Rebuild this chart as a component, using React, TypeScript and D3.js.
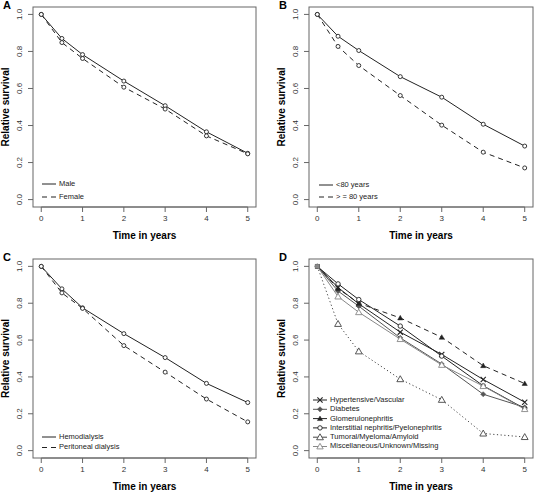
import React from "react";
import * as d3 from "d3";

const years = [0, 0.5, 1, 2, 3, 4, 5];
const xTicks = [0, 1, 2, 3, 4, 5];
const yTicks = [0, 0.2, 0.4, 0.6, 0.8, 1.0];

const male = [1.0, 0.87, 0.783, 0.64, 0.507, 0.366, 0.25];
const female = [1.0, 0.848, 0.762, 0.607, 0.489, 0.344, 0.247];

const under80 = [1.0, 0.882, 0.805, 0.664, 0.553, 0.407, 0.289];
const over80 = [1.0, 0.827, 0.724, 0.562, 0.402, 0.256, 0.171];

const hemo = [1.0, 0.878, 0.775, 0.635, 0.505, 0.365, 0.261];
const peritoneal = [1.0, 0.856, 0.772, 0.57, 0.426, 0.28, 0.156];

const hypertensive = [1.0, 0.885, 0.797, 0.643, 0.522, 0.386, 0.263];
const diabetes = [1.0, 0.866, 0.784, 0.612, 0.47, 0.306, 0.235];
const glomerulo = [1.0, 0.88, 0.8, 0.72, 0.615, 0.461, 0.364];
const interstitial = [1.0, 0.905, 0.82, 0.676, 0.513, 0.352, 0.228];
const tumoral = [1.0, 0.688, 0.539, 0.388, 0.276, 0.093, 0.074];
const misc = [1.0, 0.836, 0.751, 0.605, 0.465, 0.35, 0.225];

type Series = { name: string; values: number[]; color: string; dash?: string; marker: string; msize?: number };

const FONT = "'Liberation Sans', Arial, Helvetica, sans-serif";

function Marker({ type, x, y, color, size = 2 }: { type: string; x: number; y: number; color: string; size?: number }) {
  if (type === "circle") return <circle cx={x} cy={y} r={size} fill="white" stroke={color} strokeWidth={0.9} />;
  if (type === "x") {
    const s = size + 0.6;
    return (
      <g stroke={color} strokeWidth={1.1}>
        <line x1={x - s} y1={y - s} x2={x + s} y2={y + s} />
        <line x1={x - s} y1={y + s} x2={x + s} y2={y - s} />
      </g>
    );
  }
  if (type === "diamond") {
    const s = size + 0.6;
    return <path d={`M${x},${y - s}L${x + s},${y}L${x},${y + s}L${x - s},${y}Z`} fill={color} stroke={color} strokeWidth={0.5} />;
  }
  if (type === "ftri") {
    const s = size + 0.6;
    return <path d={`M${x},${y - s}L${x + s},${y + s * 0.75}L${x - s},${y + s * 0.75}Z`} fill={color} stroke={color} strokeWidth={0.5} />;
  }
  if (type === "otri") {
    const s = size + 1;
    return <path d={`M${x},${y - s}L${x + s},${y + s * 0.75}L${x - s},${y + s * 0.75}Z`} fill="white" stroke={color} strokeWidth={0.9} />;
  }
  if (type === "square") {
    return <rect x={x - size} y={y - size} width={size * 2} height={size * 2} fill={color} />;
  }
  return null;
}

type PanelProps = {
  label: string;
  left: number;
  top: number;
  right: number;
  bottom: number;
  series: Series[];
  legendX: number;
  legendYs: number[];
  legendFont: number;
  legendMarkers: boolean;
};

function Panel({ label, left, top, right, bottom, series, legendX, legendYs, legendFont, legendMarkers }: PanelProps) {
  const x = d3.scaleLinear().domain([-0.2, 5.2]).range([left, right]);
  const y = d3.scaleLinear().domain([-0.04, 1.04]).range([bottom, top]);
  const line = d3
    .line<number>()
    .x((_, i) => x(years[i]))
    .y((v) => y(v));
  const tickLen = 5;
  return (
    <g fontFamily={FONT}>
      <text x={left - 30} y={top - 1} fontSize={11} fontWeight="bold" textAnchor="start" dominantBaseline="middle">
        {label}
      </text>
      <rect x={left} y={top} width={right - left} height={bottom - top} fill="none" stroke="#666" strokeWidth={1} />
      <line x1={x(0)} x2={x(5)} y1={bottom} y2={bottom} stroke="#666" />
      {xTicks.map((t) => (
        <g key={"xt" + t}>
          <line x1={x(t)} x2={x(t)} y1={bottom} y2={bottom + tickLen} stroke="#666" />
          <text x={x(t)} y={bottom + 12} fontSize={8} fill="#333" textAnchor="middle" dominantBaseline="middle">
            {t}
          </text>
        </g>
      ))}
      {yTicks.map((t) => (
        <g key={"yt" + t}>
          <line x1={left} x2={left - tickLen} y1={y(t)} y2={y(t)} stroke="#666" />
          <text
            transform={`translate(${left - 13},${y(t)}) rotate(-90)`}
            fontSize={8}
            fill="#333"
            textAnchor="middle"
            dominantBaseline="middle"
          >
            {t.toFixed(1)}
          </text>
        </g>
      ))}
      <text x={(left + right) / 2} y={bottom + 29} fontSize={10} fontWeight="bold" textAnchor="middle" dominantBaseline="middle">
        Time in years
      </text>
      <text
        transform={`translate(${left - 27},${(top + bottom) / 2}) rotate(-90)`}
        fontSize={10}
        fontWeight="bold"
        textAnchor="middle"
        dominantBaseline="middle"
      >
        Relative survival
      </text>
      {series.map((s) => (
        <g key={s.name}>
          <path d={line(s.values) || ""} fill="none" stroke={s.color} strokeWidth={1} strokeDasharray={s.dash} />
          {s.values.map((v, i) => (
            <Marker
              key={i}
              type={i === 0 && s.marker !== "circle" ? "square" : s.marker}
              x={x(years[i])}
              y={y(v)}
              color={s.color}
              size={s.msize ?? 2}
            />
          ))}
        </g>
      ))}
      {series.map((s, i) => (
        <g key={"lg" + s.name}>
          <line
            x1={legendX}
            x2={legendX + 14}
            y1={legendYs[i]}
            y2={legendYs[i]}
            stroke={s.color}
            strokeWidth={1}
            strokeDasharray={!legendMarkers && s.dash ? s.dash : undefined}
          />
          {legendMarkers && <Marker type={s.marker} x={legendX + 7} y={legendYs[i]} color={s.color} size={s.msize ?? 2} />}
          <text x={legendX + 17} y={legendYs[i]} fontSize={legendFont} fill="#222" dominantBaseline="middle">
            {s.name}
          </text>
        </g>
      ))}
    </g>
  );
}

export default function App() {
  const seriesA: Series[] = [
    { name: "Male", values: male, color: "#222", marker: "circle" },
    { name: "Female", values: female, color: "#222", dash: "5,4", marker: "circle" },
  ];
  const seriesB: Series[] = [
    { name: "<80 years", values: under80, color: "#222", marker: "circle" },
    { name: "> = 80 years", values: over80, color: "#222", dash: "5,4", marker: "circle" },
  ];
  const seriesC: Series[] = [
    { name: "Hemodialysis", values: hemo, color: "#222", marker: "circle" },
    { name: "Peritoneal dialysis", values: peritoneal, color: "#222", dash: "5,4", marker: "circle" },
  ];
  const seriesD: Series[] = [
    { name: "Hypertensive/Vascular", values: hypertensive, color: "#222", marker: "x" },
    { name: "Diabetes", values: diabetes, color: "#555", marker: "diamond" },
    { name: "Glomerulonephritis", values: glomerulo, color: "#222", dash: "5,4", marker: "ftri" },
    { name: "Interstitial nephritis/Pyelonephritis", values: interstitial, color: "#222", marker: "circle", msize: 2.2 },
    { name: "Tumoral/Myeloma/Amyloid", values: tumoral, color: "#444", dash: "1.2,2.5", marker: "otri", msize: 2.4 },
    { name: "Miscellaneous/Unknown/Missing", values: misc, color: "#888", marker: "otri", msize: 2.2 },
  ];
  return (
    <svg width={534} height={492} style={{ position: "absolute", left: 0, top: 0, background: "white" }}>
      <Panel label="A" left={33} top={7} right={256} bottom={207} series={seriesA} legendX={42} legendYs={[184, 197]} legendFont={7.5} legendMarkers={false} />
      <Panel label="B" left={309} top={7} right={533} bottom={207} series={seriesB} legendX={319} legendYs={[185, 197]} legendFont={7.5} legendMarkers={false} />
      <Panel label="C" left={33} top={259} right={256} bottom={458} series={seriesC} legendX={42} legendYs={[437, 447.5]} legendFont={7.5} legendMarkers={false} />
      <Panel
        label="D"
        left={309}
        top={259}
        right={533}
        bottom={458}
        series={seriesD}
        legendX={313}
        legendYs={[400, 409.3, 418.6, 427.9, 437.2, 446.5]}
        legendFont={7.5}
        legendMarkers={true}
      />
    </svg>
  );
}
